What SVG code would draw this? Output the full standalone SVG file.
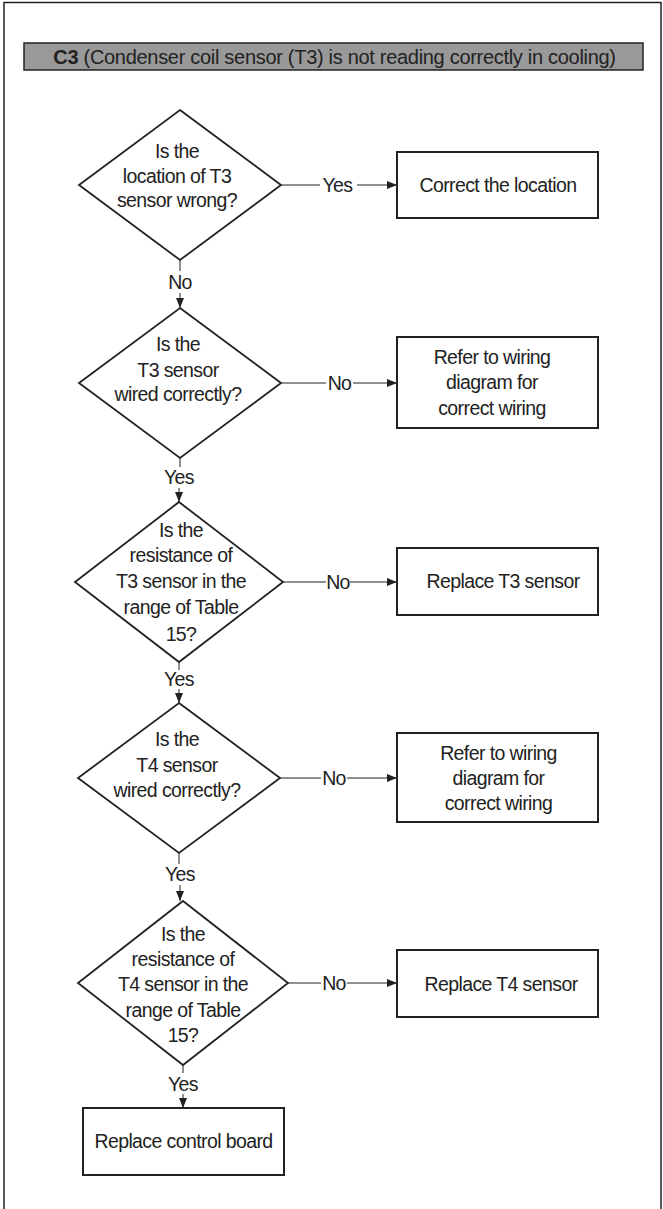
<svg xmlns="http://www.w3.org/2000/svg" width="663" height="1209" viewBox="0 0 663 1209">
<style>
  text { font-family: "Liberation Sans", Arial, sans-serif; font-size: 19.5px; letter-spacing: -0.6px; fill: #222; text-anchor: middle; }
  .dia { fill: #fff; stroke: #222; stroke-width: 1.8; }
  .box { fill: #fff; stroke: #222; stroke-width: 2; }
  .con { fill: none; stroke: #222; stroke-width: 1; }
  .hdr { font-size: 20px; letter-spacing: -0.3px; }
</style>
<defs>
  <marker id="arr" viewBox="0 0 10 8" refX="10" refY="4" markerWidth="10" markerHeight="8" markerUnits="userSpaceOnUse" orient="auto">
    <path d="M0,0 L10,4 L0,8 z" fill="#222"/>
  </marker>
</defs>
<rect x="4" y="2.5" width="657" height="1220" fill="#fff" stroke="#222" stroke-width="1.5"/>
<g id="header">
  <rect x="24" y="43" width="619" height="27" fill="#999" stroke="#222" stroke-width="1.5"/>
  <text class="hdr" x="334.5" y="63.5"><tspan font-weight="bold">C3</tspan> (Condenser coil sensor (T3) is not reading correctly in cooling)</text>
</g>
<g id="connectors">
  <path class="con" d="M281,185 H320 M357,185 H397" marker-end="url(#arr)"/>
  <text x="337.5" y="191.5">Yes</text>
  <path class="con" d="M180,260 V271"/>
  <text x="180" y="288.5">No</text>
  <path class="con" d="M180,293 V308" marker-end="url(#arr)"/>
  <path class="con" d="M281,383 H326 M353,383 H397" marker-end="url(#arr)"/>
  <text x="339.5" y="389.5">No</text>
  <path class="con" d="M180,458 V467"/>
  <text x="179" y="483.5">Yes</text>
  <path class="con" d="M179,488 V502" marker-end="url(#arr)"/>
  <path class="con" d="M283,582 H326 M350,582 H397" marker-end="url(#arr)"/>
  <text x="338" y="588.5">No</text>
  <path class="con" d="M179,662 V670"/>
  <text x="179" y="685.5">Yes</text>
  <path class="con" d="M179,689 V703" marker-end="url(#arr)"/>
  <path class="con" d="M280,778 H321 M347,778 H397" marker-end="url(#arr)"/>
  <text x="334" y="784.5">No</text>
  <path class="con" d="M179,853 V864"/>
  <text x="180" y="880.5">Yes</text>
  <path class="con" d="M180,885 V901" marker-end="url(#arr)"/>
  <path class="con" d="M288,983 H321 M347,983 H397" marker-end="url(#arr)"/>
  <text x="334" y="989.5">No</text>
  <path class="con" d="M183,1065 V1073"/>
  <text x="183" y="1090.5">Yes</text>
  <path class="con" d="M183,1094 V1108" marker-end="url(#arr)"/>
</g>
<g id="d1">
  <polygon class="dia" points="180,110 281,185 180,260 79,185"/>
  <text x="177" y="157.5">Is the</text>
  <text x="177" y="182.5">location of T3</text>
  <text x="177" y="206.5">sensor wrong?</text>
</g>
<g id="b1">
  <rect class="box" x="397" y="152" width="201" height="66"/>
  <text x="498" y="191.5">Correct the location</text>
</g>
<g id="d2">
  <polygon class="dia" points="180,308 281,383 180,458 79,383"/>
  <text x="178" y="350.5">Is the</text>
  <text x="178" y="376.5">T3 sensor</text>
  <text x="178" y="400.5">wired correctly?</text>
</g>
<g id="b2">
  <rect class="box" x="397" y="337" width="201" height="91"/>
  <text x="492" y="363.5">Refer to wiring</text>
  <text x="492" y="389">diagram for</text>
  <text x="492" y="414.5">correct wiring</text>
</g>
<g id="d3">
  <polygon class="dia" points="179,502 283,582 179,662 75,582"/>
  <text x="181" y="536.5">Is the</text>
  <text x="181" y="561.5">resistance of</text>
  <text x="181" y="587.5">T3 sensor in the</text>
  <text x="181" y="613.5">range of Table</text>
  <text x="181" y="640.5">15?</text>
</g>
<g id="b3">
  <rect class="box" x="397" y="548" width="201" height="67"/>
  <text x="503" y="587.5">Replace T3 sensor</text>
</g>
<g id="d4">
  <polygon class="dia" points="179,703 280,778 179,853 78,778"/>
  <text x="177" y="745.5">Is the</text>
  <text x="177" y="772">T4 sensor</text>
  <text x="177" y="796.5">wired correctly?</text>
</g>
<g id="b4">
  <rect class="box" x="397" y="733" width="201" height="89"/>
  <text x="498.5" y="759.5">Refer to wiring</text>
  <text x="498.5" y="784.5">diagram for</text>
  <text x="498.5" y="809.5">correct wiring</text>
</g>
<g id="d5">
  <polygon class="dia" points="183,901 288,983 183,1065 78,983"/>
  <text x="183" y="940.5">Is the</text>
  <text x="183" y="965.5">resistance of</text>
  <text x="183" y="991">T4 sensor in the</text>
  <text x="183" y="1016.5">range of Table</text>
  <text x="183" y="1042">15?</text>
</g>
<g id="b6">
  <rect class="box" x="397" y="950" width="201" height="67"/>
  <text x="501" y="990.5">Replace T4 sensor</text>
</g>
<g id="b5">
  <rect class="box" x="83" y="1108" width="201" height="67"/>
  <text x="183.5" y="1147.5">Replace control board</text>
</g>
</svg>
